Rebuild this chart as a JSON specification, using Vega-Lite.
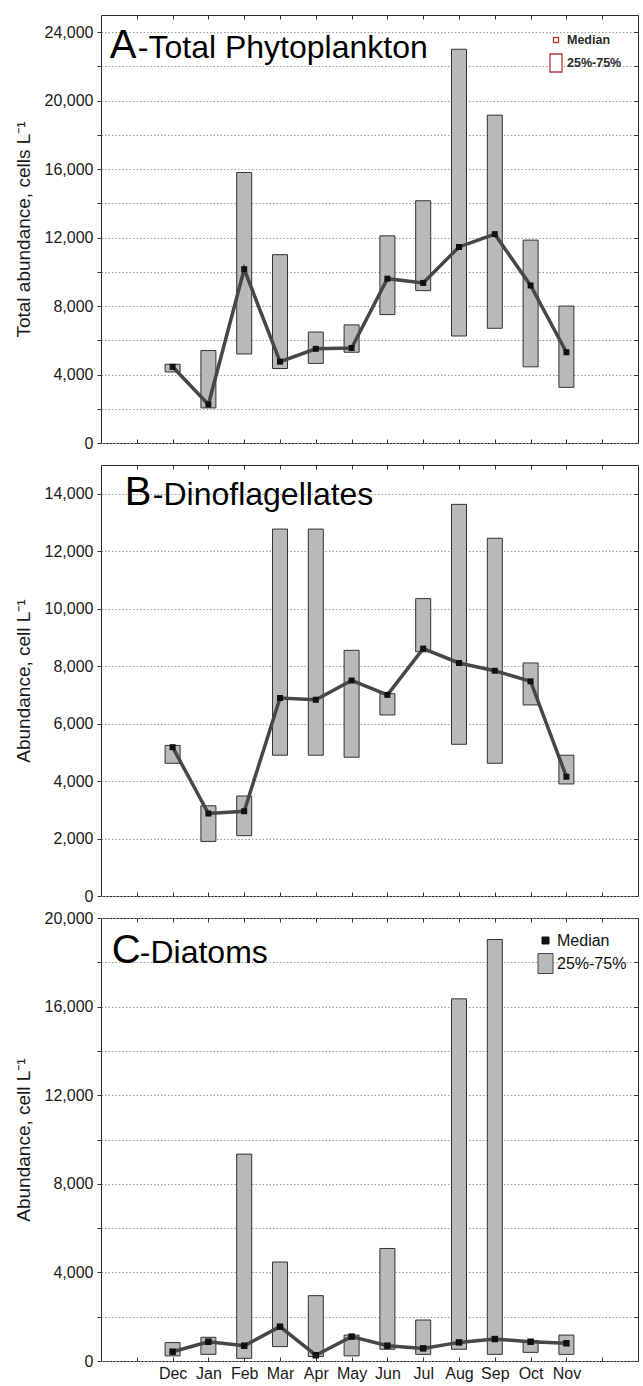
{
  "$schema": "https://vega.github.io/schema/vega-lite/v6.json",
  "padding": {"top": 14, "left": 13, "right": 0, "bottom": 0},
  "background": "white",
  "datasets": {
    "total": [
      {"month": "Dec", "q1": 4150, "median": 4450, "q3": 4600},
      {"month": "Jan", "q1": 2050, "median": 2250, "q3": 5400},
      {"month": "Feb", "q1": 5200, "median": 10150, "q3": 15800},
      {"month": "Mar", "q1": 4350, "median": 4750, "q3": 11000},
      {"month": "Apr", "q1": 4650, "median": 5500, "q3": 6480},
      {"month": "May", "q1": 5300, "median": 5550, "q3": 6900},
      {"month": "Jun", "q1": 7500, "median": 9600, "q3": 12100},
      {"month": "Jul", "q1": 8900, "median": 9350, "q3": 14150},
      {"month": "Aug", "q1": 6250, "median": 11450, "q3": 23000},
      {"month": "Sep", "q1": 6700, "median": 12200, "q3": 19150},
      {"month": "Oct", "q1": 4450, "median": 9200, "q3": 11850},
      {"month": "Nov", "q1": 3250, "median": 5300, "q3": 8000}
    ],
    "dino": [
      {"month": "Dec", "q1": 4620, "median": 5180, "q3": 5240},
      {"month": "Jan", "q1": 1900, "median": 2870, "q3": 3140},
      {"month": "Feb", "q1": 2100, "median": 2950, "q3": 3480},
      {"month": "Mar", "q1": 4900, "median": 6890, "q3": 12770},
      {"month": "Apr", "q1": 4900, "median": 6830, "q3": 12770},
      {"month": "May", "q1": 4830, "median": 7500, "q3": 8550},
      {"month": "Jun", "q1": 6300, "median": 7000, "q3": 7040},
      {"month": "Jul", "q1": 8500, "median": 8610, "q3": 10350},
      {"month": "Aug", "q1": 5280, "median": 8110, "q3": 13630},
      {"month": "Sep", "q1": 4620, "median": 7840, "q3": 12450},
      {"month": "Oct", "q1": 6650, "median": 7470, "q3": 8110},
      {"month": "Nov", "q1": 3900, "median": 4150, "q3": 4900}
    ],
    "diatoms": [
      {"month": "Dec", "q1": 230, "median": 420, "q3": 830},
      {"month": "Jan", "q1": 300, "median": 870, "q3": 1070},
      {"month": "Feb", "q1": 120, "median": 690, "q3": 9340},
      {"month": "Mar", "q1": 650, "median": 1550, "q3": 4470},
      {"month": "Apr", "q1": 200, "median": 260, "q3": 2950},
      {"month": "May", "q1": 230, "median": 1100, "q3": 1170},
      {"month": "Jun", "q1": 530, "median": 690, "q3": 5080},
      {"month": "Jul", "q1": 300, "median": 570, "q3": 1850},
      {"month": "Aug", "q1": 530, "median": 840, "q3": 16350},
      {"month": "Sep", "q1": 300, "median": 990, "q3": 19030},
      {"month": "Oct", "q1": 390, "median": 870, "q3": 920},
      {"month": "Nov", "q1": 300, "median": 800, "q3": 1170}
    ]
  },
  "spacing": 22,
  "bounds": "flush",
  "resolve": {"scale": {"shape": "independent", "x": "independent", "y": "independent"}, "legend": {"shape": "independent"}},
  "vconcat": [
    {
      "width": 537,
      "height": 428,
      "data": {"name": "total"},
      "layer": [
        {
          "mark": {"type": "bar", "width": 15, "fill": "#b9b9b9", "stroke": "#333333", "strokeWidth": 1},
          "encoding": {
            "x": {"field": "month", "type": "nominal",
              "scale": {"type": "point", "padding": 1, "domain": [" ", "Dec", "Jan", "Feb", "Mar", "Apr", "May", "Jun", "Jul", "Aug", "Sep", "Oct", "Nov", "  "]},
              "axis": {"orient": "bottom", "labels": false, "tickSize": -4, "title": null, "grid": false}},
            "y": {"field": "q1", "type": "quantitative",
              "scale": {"domain": [0, 25000], "nice": false, "zero": true},
              "axis": {"values": [0, 2000, 4000, 6000, 8000, 10000, 12000, 14000, 16000, 18000, 20000, 22000, 24000],
                "labelExpr": "datum.value % 4000 === 0 ? datum.label : ''",
                "title": "Total abundance, cells L⁻¹", "grid": true}},
            "y2": {"field": "q3"}
          }
        },
        {
          "mark": {"type": "line", "color": "#474747", "strokeWidth": 3.5},
          "encoding": {
            "x": {"field": "month", "type": "nominal", "sort": ["Dec", "Jan", "Feb", "Mar", "Apr", "May", "Jun", "Jul", "Aug", "Sep", "Oct", "Nov"],
              "axis": {"orient": "top", "labels": false, "tickSize": -4, "title": null, "grid": false}},
            "y": {"field": "median", "type": "quantitative",
              "axis": {"orient": "right", "labels": false, "tickSize": -4, "title": null, "grid": false,
                "values": [0, 2000, 4000, 6000, 8000, 10000, 12000, 14000, 16000, 18000, 20000, 22000, 24000]}}
          }
        },
        {
          "mark": {"type": "point", "filled": true, "color": "#111111", "size": 459, "opacity": 1},
          "encoding": {
            "x": {"field": "month", "type": "nominal", "axis": null},
            "y": {"field": "median", "type": "quantitative", "axis": null},
            "shape": {"datum": "Median",
              "scale": {"domain": ["Median", "25%-75%"], "range": ["M-0.28,-0.28H0.28V0.28H-0.28Z", "M-0.667,-1H0.667V1H-0.667Z"]},
              "legend": {"orient": "none", "legendX": 445, "legendY": 15, "title": null,
                "symbolSize": 324, "rowPadding": 4, "labelOffset": 1, "labelFontSize": 12.5, "labelFontWeight": "bold", "labelColor": "#2a2a2a",
                "encoding": {"symbols": {"fill": {"value": "#ffffff"}, "stroke": {"value": "#b03a3a"}, "strokeWidth": {"value": 1.3}, "opacity": {"value": 1}}}}}
          }
        },
        {
          "data": {"values": [{}]},
          "mark": {"type": "text", "align": "left", "baseline": "alphabetic", "fontSize": 40, "dx": -27, "dy": 43, "color": "#000000"},
          "encoding": {
            "x": {"datum": " ", "type": "nominal", "axis": null},
            "y": {"datum": 25000, "type": "quantitative", "axis": null},
            "text": {"value": "A"}
          }
        },
        {
          "data": {"values": [{}]},
          "mark": {"type": "text", "align": "left", "baseline": "alphabetic", "fontSize": 32, "dx": 1, "dy": 43, "color": "#000000"},
          "encoding": {
            "x": {"datum": " ", "type": "nominal", "axis": null},
            "y": {"datum": 25000, "type": "quantitative", "axis": null},
            "text": {"value": "-Total Phytoplankton"}
          }
        }
      ],
      "resolve": {"axis": {"x": "independent", "y": "independent"}}
    },
    {
      "width": 537,
      "height": 431,
      "data": {"name": "dino"},
      "layer": [
        {
          "mark": {"type": "bar", "width": 15, "fill": "#b9b9b9", "stroke": "#333333", "strokeWidth": 1},
          "encoding": {
            "x": {"field": "month", "type": "nominal",
              "scale": {"type": "point", "padding": 1, "domain": [" ", "Dec", "Jan", "Feb", "Mar", "Apr", "May", "Jun", "Jul", "Aug", "Sep", "Oct", "Nov", "  "]},
              "axis": {"orient": "bottom", "labels": false, "tickSize": -4, "title": null, "grid": false}},
            "y": {"field": "q1", "type": "quantitative",
              "scale": {"domain": [0, 15000], "nice": false, "zero": true},
              "axis": {"values": [0, 2000, 4000, 6000, 8000, 10000, 12000, 14000],
                "title": "Abundance, cell L⁻¹", "grid": true}},
            "y2": {"field": "q3"}
          }
        },
        {
          "mark": {"type": "line", "color": "#474747", "strokeWidth": 3.5},
          "encoding": {
            "x": {"field": "month", "type": "nominal", "sort": ["Dec", "Jan", "Feb", "Mar", "Apr", "May", "Jun", "Jul", "Aug", "Sep", "Oct", "Nov"],
              "axis": {"orient": "top", "labels": false, "tickSize": -4, "title": null, "grid": false}},
            "y": {"field": "median", "type": "quantitative",
              "axis": {"orient": "right", "labels": false, "tickSize": -4, "title": null, "grid": false,
                "values": [0, 2000, 4000, 6000, 8000, 10000, 12000, 14000]}}
          }
        },
        {
          "mark": {"type": "point", "shape": "square", "filled": true, "color": "#111111", "size": 36, "opacity": 1},
          "encoding": {
            "x": {"field": "month", "type": "nominal", "axis": null},
            "y": {"field": "median", "type": "quantitative", "axis": null}
          }
        },
        {
          "data": {"values": [{}]},
          "mark": {"type": "text", "align": "left", "baseline": "alphabetic", "fontSize": 40, "dx": -12, "dy": 40, "color": "#000000"},
          "encoding": {
            "x": {"datum": " ", "type": "nominal", "axis": null},
            "y": {"datum": 15000, "type": "quantitative", "axis": null},
            "text": {"value": "B"}
          }
        },
        {
          "data": {"values": [{}]},
          "mark": {"type": "text", "align": "left", "baseline": "alphabetic", "fontSize": 32, "dx": 16, "dy": 40, "color": "#000000"},
          "encoding": {
            "x": {"datum": " ", "type": "nominal", "axis": null},
            "y": {"datum": 15000, "type": "quantitative", "axis": null},
            "text": {"value": "-Dinoflagellates"}
          }
        }
      ],
      "resolve": {"axis": {"x": "independent", "y": "independent"}}
    },
    {
      "width": 537,
      "height": 443,
      "data": {"name": "diatoms"},
      "layer": [
        {
          "mark": {"type": "bar", "width": 15, "fill": "#b9b9b9", "stroke": "#333333", "strokeWidth": 1},
          "encoding": {
            "x": {"field": "month", "type": "nominal",
              "scale": {"type": "point", "padding": 1, "domain": [" ", "Dec", "Jan", "Feb", "Mar", "Apr", "May", "Jun", "Jul", "Aug", "Sep", "Oct", "Nov", "  "]},
              "axis": {"orient": "bottom", "labels": true, "tickSize": -4, "labelPadding": 8, "labelAngle": 0, "labelFontSize": 16, "title": null, "grid": false}},
            "y": {"field": "q1", "type": "quantitative",
              "scale": {"domain": [0, 20000], "nice": false, "zero": true},
              "axis": {"values": [0, 2000, 4000, 6000, 8000, 10000, 12000, 14000, 16000, 18000, 20000],
                "labelExpr": "datum.value % 4000 === 0 ? datum.label : ''",
                "title": "Abundance, cell L⁻¹", "grid": true}},
            "y2": {"field": "q3"}
          }
        },
        {
          "mark": {"type": "line", "color": "#474747", "strokeWidth": 3.5},
          "encoding": {
            "x": {"field": "month", "type": "nominal", "sort": ["Dec", "Jan", "Feb", "Mar", "Apr", "May", "Jun", "Jul", "Aug", "Sep", "Oct", "Nov"],
              "axis": {"orient": "top", "labels": false, "tickSize": -4, "title": null, "grid": false}},
            "y": {"field": "median", "type": "quantitative",
              "axis": {"orient": "right", "labels": false, "tickSize": -4, "title": null, "grid": false,
                "values": [0, 2000, 4000, 6000, 8000, 10000, 12000, 14000, 16000, 18000, 20000]}}
          }
        },
        {
          "mark": {"type": "point", "filled": true, "color": "#111111", "size": 345, "opacity": 1},
          "encoding": {
            "x": {"field": "month", "type": "nominal", "axis": null},
            "y": {"field": "median", "type": "quantitative", "axis": null},
            "shape": {"datum": "Median",
              "scale": {"domain": ["Median", "25%-75%"], "range": ["M-0.35,-0.35H0.35V0.35H-0.35Z", "M-0.75,-1H0.75V1H-0.75Z"]},
              "legend": {"orient": "none", "legendX": 434, "legendY": 12, "title": null,
                "symbolSize": 400, "rowPadding": 2, "labelOffset": 1, "labelFontSize": 16, "labelColor": "#111111",
                "encoding": {"symbols": {
                  "fill": {"condition": {"test": "datum.value === 'Median'", "value": "#111111"}, "value": "#b9b9b9"},
                  "stroke": {"condition": {"test": "datum.value === 'Median'", "value": "#111111"}, "value": "#444444"},
                  "strokeWidth": {"value": 1}, "opacity": {"value": 1}}}}}
          }
        },
        {
          "data": {"values": [{}]},
          "mark": {"type": "text", "align": "left", "baseline": "alphabetic", "fontSize": 40, "dx": -25, "dy": 45, "color": "#000000"},
          "encoding": {
            "x": {"datum": " ", "type": "nominal", "axis": null},
            "y": {"datum": 20000, "type": "quantitative", "axis": null},
            "text": {"value": "C"}
          }
        },
        {
          "data": {"values": [{}]},
          "mark": {"type": "text", "align": "left", "baseline": "alphabetic", "fontSize": 32, "dx": 3, "dy": 45, "color": "#000000"},
          "encoding": {
            "x": {"datum": " ", "type": "nominal", "axis": null},
            "y": {"datum": 20000, "type": "quantitative", "axis": null},
            "text": {"value": "-Diatoms"}
          }
        }
      ],
      "resolve": {"axis": {"x": "independent", "y": "independent"}}
    }
  ],
  "config": {
    "font": "Liberation Sans",
    "view": {"stroke": "#2a2a2a", "strokeWidth": 1},
    "axis": {
      "domain": false,
      "tickColor": "#333333",
      "tickSize": 4,
      "labelFont": "Liberation Sans",
      "labelFontSize": 16,
      "labelColor": "#1a1a1a",
      "labelPadding": 4,
      "titleFont": "Liberation Sans",
      "titleFontSize": 19,
      "titleFontWeight": "normal",
      "titleColor": "#1a1a1a",
      "titlePadding": 11,
      "gridColor": "#9a9a9a",
      "gridDash": [1.5, 2],
      "gridWidth": 1
    },
    "legend": {"labelFont": "Liberation Sans"}
  }
}
